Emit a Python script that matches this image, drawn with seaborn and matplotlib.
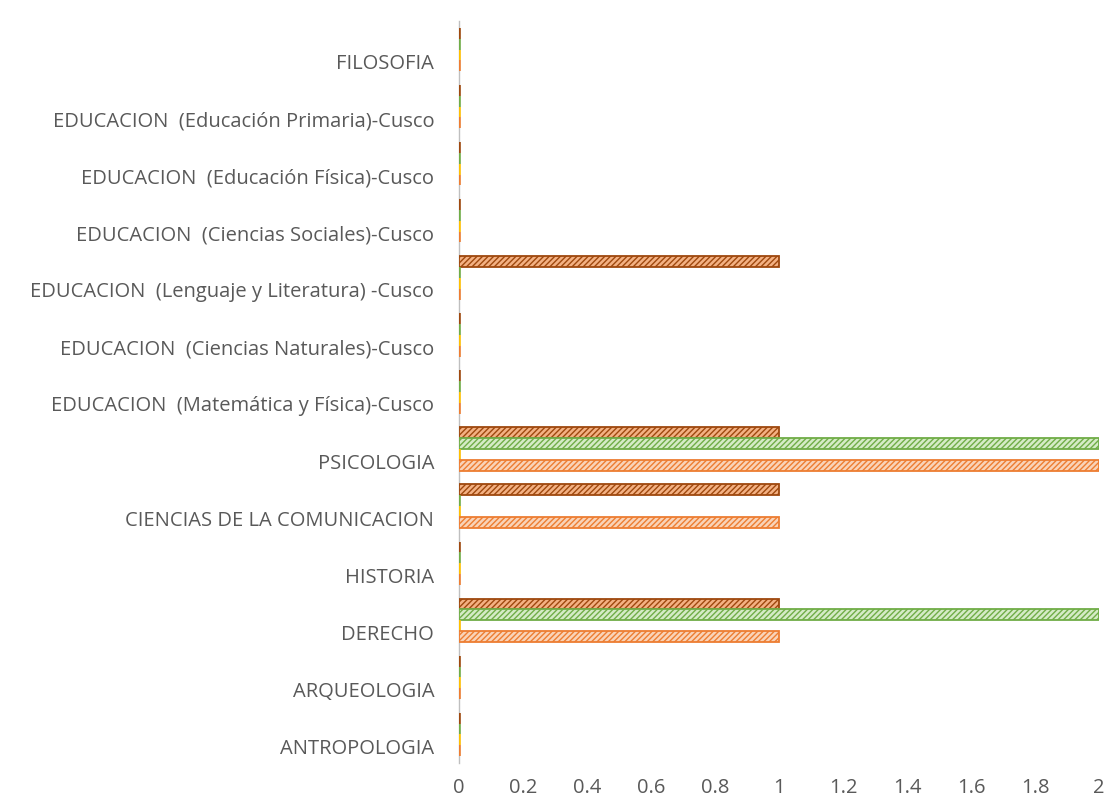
import pandas as pd
import seaborn as sns
import matplotlib.pyplot as plt
import matplotlib.transforms as mtransforms

# Categories, top to bottom as shown in the chart
carreras = [
    'FILOSOFIA',
    'EDUCACION  (Educación Primaria)-Cusco',
    'EDUCACION  (Educación Física)-Cusco',
    'EDUCACION  (Ciencias Sociales)-Cusco',
    'EDUCACION  (Lenguaje y Literatura) -Cusco',
    'EDUCACION  (Ciencias Naturales)-Cusco',
    'EDUCACION  (Matemática y Física)-Cusco',
    'PSICOLOGIA',
    'CIENCIAS DE LA COMUNICACION',
    'HISTORIA',
    'DERECHO',
    'ARQUEOLOGIA',
    'ANTROPOLOGIA',
]

# Series (drawn top to bottom within each group)
series = ['Serie 4', 'Serie 3', 'Serie 2', 'Serie 1']
serie4 = [0, 0, 0, 0, 1, 0, 0, 1, 1, 0, 1, 0, 0]   # brown
serie3 = [0, 0, 0, 0, 0, 0, 0, 2, 0, 0, 2, 0, 0]   # green
serie2 = [0, 0, 0, 0, 0, 0, 0, 0, 0, 0, 0, 0, 0]   # yellow
serie1 = [0, 0, 0, 0, 0, 0, 0, 2, 1, 0, 1, 0, 0]   # orange

edge_colors = ['#9E480E', '#70AD47', '#FFC000', '#ED7D31']
face_colors = ['#F4B183', '#D5EBC6', '#FFE8A3', '#F9D3B8']

rows = []
for name, vals in zip(series, [serie4, serie3, serie2, serie1]):
    for c, v in zip(carreras, vals):
        rows.append({'Carrera': c, 'Serie': name, 'Valor': v})
df = pd.DataFrame(rows)

sns.set_theme(style='white')
plt.rcParams['font.family'] = ['Open Sans', 'DejaVu Sans']
plt.rcParams['hatch.linewidth'] = 1.0

fig = plt.figure(figsize=(11.05, 8.04), dpi=100)
ax = fig.add_axes([0.4155, 0.0498, 0.5790, 0.9228])

sns.barplot(data=df, y='Carrera', x='Valor', hue='Serie', hue_order=series,
            order=carreras, orient='h', palette=edge_colors, width=0.76,
            legend=False, errorbar=None, ax=ax)

for cont, ec, fc in zip(ax.containers, edge_colors, face_colors):
    for p in cont.patches:
        p.set_facecolor(fc)
        p.set_edgecolor(ec)
        p.set_hatch('//////')
        # zero values show up as a short coloured stub on the axis
        p.set_linewidth(1.3 if p.get_width() > 0 else 2.6)
        p.set_zorder(3)

ax.set_xlim(0, 2)
ax.set_xticks([0, 0.2, 0.4, 0.6, 0.8, 1, 1.2, 1.4, 1.6, 1.8, 2])
ax.set_xticklabels(['0', '0.2', '0.4', '0.6', '0.8', '1', '1.2', '1.4', '1.6', '1.8', '2'])
ax.set_xlabel('')
ax.set_ylabel('')
ax.tick_params(axis='x', length=0, pad=10, labelsize=14.5, labelcolor='#595959')
ax.tick_params(axis='y', length=0, pad=18, labelsize=14.5, labelcolor='#595959')

# category labels sit a little lower than the bar groups in the original
shift = mtransforms.ScaledTranslation(0, -11 / 100, fig.dpi_scale_trans)
for lab in ax.get_yticklabels():
    lab.set_transform(lab.get_transform() + shift)

for s in ['top', 'right', 'bottom']:
    ax.spines[s].set_visible(False)
ax.spines['left'].set_color('#BFBFBF')
ax.spines['left'].set_linewidth(1.0)

fig.savefig('out.png', dpi=100)
